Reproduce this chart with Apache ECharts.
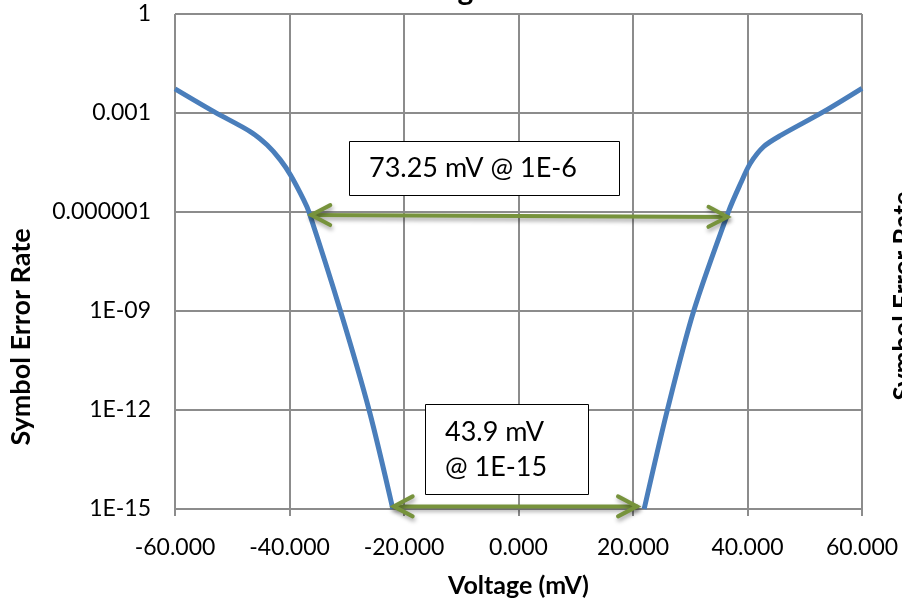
<!DOCTYPE html>
<html>
<head>
<meta charset="utf-8">
<script src="https://cdn.jsdelivr.net/npm/echarts@6/dist/echarts.min.js"></script>
<style>
  html, body { margin: 0; padding: 0; background: #fff; }
  #chart { width: 902px; height: 601px; }
</style>
</head>
<body>
<div id="chart"></div>
<script>
// Bathtub curve: symbol error rate against sampling voltage offset (mV)
const leftVoltage = [-60, -53.2, -46.8, -43.9, -41.6, -39.8, -37.5, -36.6, -31.1, -26.1, -21.95];
const leftSer     = [5.4e-3, 1.1e-3, 2.7e-4, 1.07e-4, 3.8e-5, 1.3e-5, 2.3e-6, 1e-6, 1e-9, 1e-12, 1e-15];
const rightVoltage = [21.95, 26.0, 30.6, 36.65, 38.8, 40.5, 42.8, 45.8, 53.3, 60];
const rightSer     = [1e-15, 1e-12, 1e-9, 1e-6, 7.4e-6, 3.0e-5, 9.5e-5, 2.1e-4, 1.1e-3, 5.6e-3];

// Eye-width markers (start/end voltage and error rate of each double arrow)
const arrowFromMv  = [-36.2, -21.8];
const arrowToMv    = [36.5, 20.7];
const arrowFromSer = [8.1e-7, 1.2e-15];
const arrowToSer   = [7.1e-7, 1.2e-15];
const noteTexts = ['73.25 mV @ 1E-6', '43.9 mV\n@ 1E-15'];

// Axis ticks
const xTickValues = [-60, -40, -20, 0, 20, 40, 60];
const yTickExponents = [-15, -12, -9, -6, -3, 0];
const yTickLabels = ['1E-15', '1E-12', '1E-09', '0.000001', '0.001', '1'];

const FONT = 'Lato';
const GRID = '#8c8c8c';
const BLUE = '#4a7ebb';
const GREEN = '#77933c';

const chart = echarts.init(document.getElementById('chart'));

function pairs(xs, ys) { return xs.map((x, i) => [x, ys[i]]); }

const arrowData = arrowFromMv.map((x, i) => [x, arrowFromSer[i], arrowToMv[i], arrowToSer[i]]);

function renderArrow(params, api) {
  const p1 = api.coord([api.value(0), api.value(1)]);
  const p2 = api.coord([api.value(2), api.value(3)]);
  const dx = p2[0] - p1[0], dy = p2[1] - p1[1];
  const len = Math.sqrt(dx * dx + dy * dy);
  const ux = dx / len, uy = dy / len;
  const nx = -uy, ny = ux;
  const L = 19, W = 10;
  function head(tip, dir) {
    const bx = tip[0] - dir * L * ux, by = tip[1] - dir * L * uy;
    return [[bx + W * nx, by + W * ny], tip, [bx - W * nx, by - W * ny]];
  }
  const style = {
    stroke: GREEN, lineWidth: 4, fill: null, lineJoin: 'miter', lineCap: 'round',
    shadowBlur: 4, shadowOffsetX: 1, shadowOffsetY: 3, shadowColor: 'rgba(0,0,0,0.35)'
  };
  return {
    type: 'group',
    children: [
      { type: 'line', shape: { x1: p1[0], y1: p1[1], x2: p2[0], y2: p2[1] }, style: style },
      { type: 'polyline', shape: { points: head(p1, -1) }, style: style },
      { type: 'polyline', shape: { points: head(p2, 1) }, style: style }
    ]
  };
}

const lineStyle = { color: BLUE, width: 5, cap: 'butt' };

chart.setOption({
  animation: false,
  backgroundColor: '#fff',
  grid: { left: 175, right: 40, top: 14, bottom: 92, containLabel: false, outerBoundsMode: 'none' },
  xAxis: {
    type: 'value', min: -60, max: 60, interval: 20,
    name: 'Voltage (mV)', nameLocation: 'middle', nameGap: 64,
    nameTextStyle: { fontFamily: FONT, fontWeight: 'bold', fontSize: 25, color: '#000' },
    axisLine: { show: true, lineStyle: { color: GRID, width: 2 } },
    axisTick: { show: true, length: 7, lineStyle: { color: GRID, width: 2 } },
    axisLabel: {
      margin: 27, fontFamily: FONT, fontSize: 23, color: '#000',
      formatter: v => xTickValues.includes(v) ? v.toFixed(3) : ''
    },
    splitLine: { show: true, lineStyle: { color: GRID, width: 2 } }
  },
  yAxis: {
    type: 'log', logBase: 10, min: 1e-15, max: 1, interval: 3,
    axisLine: { show: true, lineStyle: { color: GRID, width: 2 } },
    axisTick: { show: true, length: 8, lineStyle: { color: GRID, width: 2 } },
    axisLabel: {
      margin: 24, fontFamily: FONT, fontSize: 23, color: '#000',
      formatter: v => {
        const e = Math.round(Math.log10(v));
        const i = yTickExponents.indexOf(e);
        return i >= 0 ? yTickLabels[i] : '';
      }
    },
    splitLine: { show: true, lineStyle: { color: GRID, width: 2 } },
    minorTick: { show: false }
  },
  series: [
    {
      name: 'SER (low side)', type: 'line', data: pairs(leftVoltage, leftSer),
      showSymbol: false, smooth: 0.3, lineStyle: lineStyle, z: 3
    },
    {
      name: 'SER (high side)', type: 'line', data: pairs(rightVoltage, rightSer),
      showSymbol: false, smooth: 0.3, lineStyle: lineStyle, z: 3
    },
    {
      name: 'Eye width', type: 'custom', data: arrowData,
      encode: { x: [0, 2], y: [1, 3] },
      renderItem: renderArrow, z: 5
    }
  ],
  graphic: [
    // chart title, mostly above the visible area
    {
      type: 'text', x: 496, y: 5, z: 10,
      style: { text: 'Voltage Bathtub', font: 'bold 30px ' + FONT, fill: '#000', align: 'center', verticalAlign: 'bottom' }
    },
    // y-axis title
    {
      type: 'text', rotation: Math.PI / 2, x: 21, y: 337,
      style: { text: 'Symbol Error Rate', font: 'bold 27px ' + FONT, fill: '#000', align: 'center', verticalAlign: 'middle' }
    },
    // neighbouring panel's y-axis title
    {
      type: 'text', rotation: Math.PI / 2, x: 904, y: 296,
      style: { text: 'Symbol Error Rate', font: 'bold 26px ' + FONT, fill: '#000', align: 'center', verticalAlign: 'middle' }
    },
    // note boxes
    {
      type: 'rect', shape: { x: 349.5, y: 141.5, width: 270, height: 54 }, z: 6,
      style: { fill: '#fff', stroke: '#000', lineWidth: 1 }
    },
    {
      type: 'text', x: 369, y: 168.5, z: 7,
      style: { text: noteTexts[0], font: '27px ' + FONT, fill: '#000', verticalAlign: 'middle' }
    },
    {
      type: 'rect', shape: { x: 425.5, y: 404.5, width: 163, height: 90 }, z: 6,
      style: { fill: '#fff', stroke: '#000', lineWidth: 1 }
    },
    {
      type: 'text', x: 445, y: 450, z: 7,
      style: { text: noteTexts[1], font: '27px ' + FONT, fill: '#000', verticalAlign: 'middle', lineHeight: 35 }
    }
  ]
});
</script>
</body>
</html>
